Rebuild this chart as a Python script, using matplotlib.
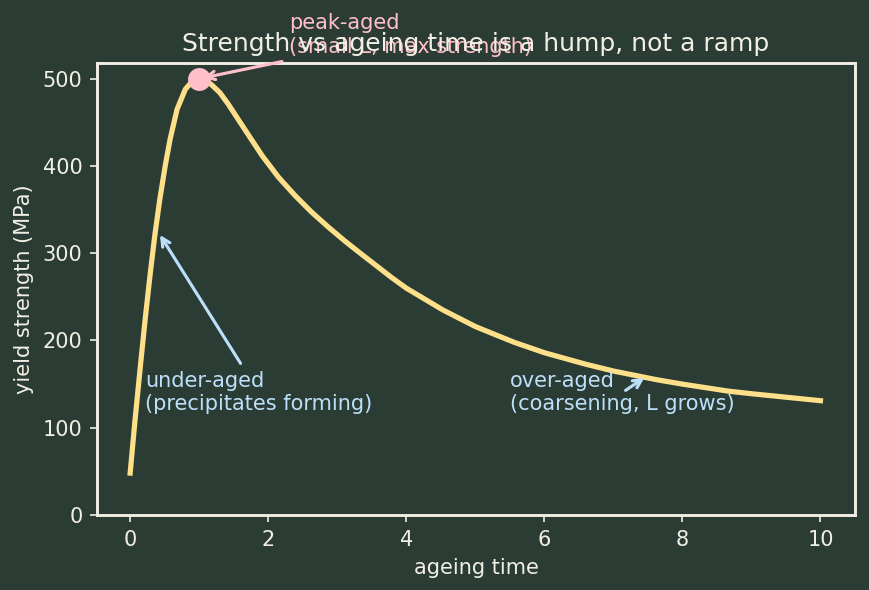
import matplotlib
matplotlib.use("Agg")
import matplotlib.pyplot as plt

# data
ageing_time = [0, 0.07, 0.15, 0.22, 0.29, 0.36, 0.43, 0.51, 0.58, 0.68, 0.8, 0.9,
               1.0, 1.1, 1.18, 1.3, 1.42, 1.66, 1.91, 2.15, 2.39, 2.63, 2.87, 3.11,
               3.35, 3.79, 4.0, 4.53, 5.0, 5.56, 6.0, 6.59, 7.0, 7.63, 8.0, 8.66,
               9.0, 10]
yield_strength = [48, 108, 172, 226, 276, 322, 362, 401, 431, 465, 488, 497,
                  500, 498, 493, 484, 471, 442, 412, 387, 366, 347, 330, 314,
                  299, 272, 260, 235, 216, 198, 186, 173, 165, 155, 150, 142,
                  139, 131]
peak_point = (1.0, 500)
under_point = (0.4, 325)
over_point = (7.5, 160)

title = "Strength vs ageing time is a hump, not a ramp"
xlabel = "ageing time"
ylabel = "yield strength (MPa)"
peak_text = "peak-aged\n(small L, max strength)"
under_text = "under-aged\n(precipitates forming)"
over_text = "over-aged\n(coarsening, L grows)"

BG = "#2b3c34"
FG = "#f2efe4"
CURVE = "#ffe08a"
PINK = "#ffc0cb"
BLUE = "#bde0fa"

fig = plt.figure(figsize=(869 / 150, 590 / 150), dpi=150, facecolor=BG)
ax = fig.add_axes([97 / 869, 1 - 515 / 590, (855 - 97) / 869, (515 - 63) / 590])
ax.set_facecolor(BG)

ax.plot(ageing_time, yield_strength, color=CURVE, lw=2.5, zorder=2,
        solid_joinstyle="round")
ax.plot([peak_point[0]], [peak_point[1]], "o", color=PINK, ms=10, zorder=3)

ax.annotate(peak_text, xy=peak_point, xytext=(2.3, 530), color=PINK, fontsize=10,
            annotation_clip=False,
            arrowprops=dict(arrowstyle="->", color=PINK, lw=1.5))
ax.annotate(under_text, xy=under_point, xytext=(0.22, 120), color=BLUE, fontsize=10,
            arrowprops=dict(arrowstyle="->", color=BLUE, lw=1.5))
ax.annotate(over_text, xy=over_point, xytext=(5.5, 120), color=BLUE, fontsize=10,
            arrowprops=dict(arrowstyle="->", color=BLUE, lw=1.5))

ax.set_xlim(-0.48, 10.5)
ax.set_ylim(0, 518)
ax.set_xticks([0, 2, 4, 6, 8, 10])
ax.set_yticks([0, 100, 200, 300, 400, 500])

for s in ax.spines.values():
    s.set_color(FG)
    s.set_linewidth(1.4)
ax.tick_params(colors=FG, labelcolor=FG, labelsize=10)
ax.set_xlabel(xlabel, color=FG, fontsize=10)
ax.set_ylabel(ylabel, color=FG, fontsize=10)
ax.set_title(title, color=FG, fontsize=12, zorder=5)

fig.savefig("out.png", dpi=150, facecolor=BG)
